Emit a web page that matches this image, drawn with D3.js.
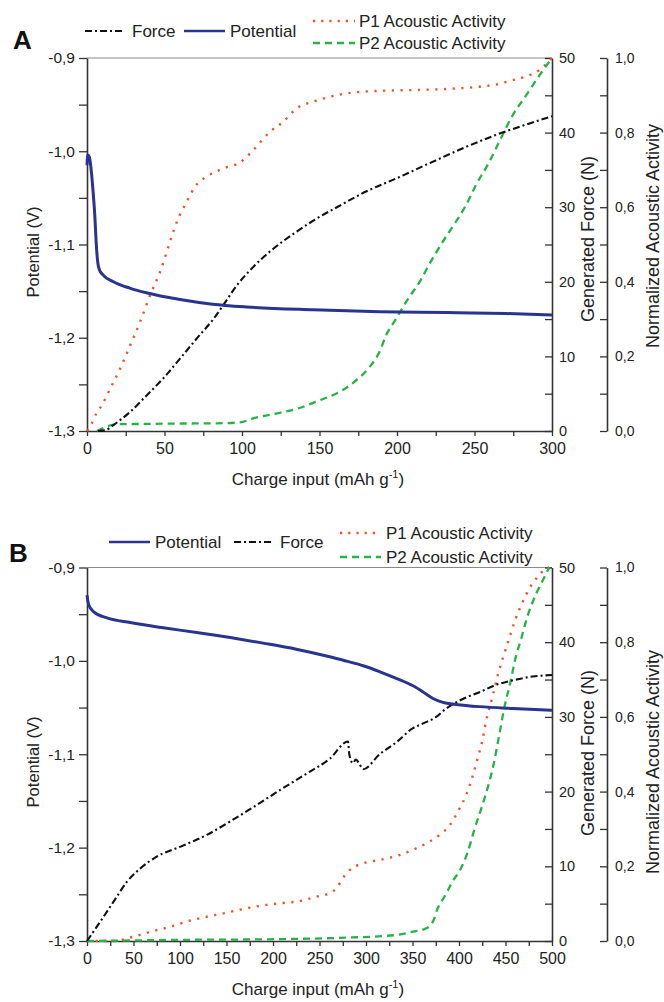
<!DOCTYPE html>
<html><head><meta charset="utf-8">
<script src="https://cdn.jsdelivr.net/npm/d3@7"></script>
<style>
body{margin:0;background:#fff;}
svg{display:block;font-family:"Liberation Sans",Arial,sans-serif;}
</style></head>
<body>
<svg id="chart" width="664" height="1002"></svg>
<script>
// ---------- DATA ----------
const potentialA = [[0,-1.015],[0.5,-1.004],[1.5,-1.006],[3,-1.025],[4,-1.045],[5,-1.068],[6,-1.1],[7,-1.12],[8,-1.127],[10,-1.132],[17,-1.140],[28,-1.147],[39,-1.152],[60,-1.159],[81,-1.164],[103,-1.167],[146,-1.170],[189,-1.172],[232,-1.173],[270,-1.174],[300,-1.1755]];
const forceA = [[7,0],[11.8,0.1],[17,0.8],[28,2.6],[38.6,4.8],[49.4,7.1],[60,9.7],[70.8,12.4],[81.5,15.0],[88,16.9],[96.6,19.5],[107.3,22.0],[120,24.4],[133,26.4],[146,28.2],[163,30.2],[180,32.1],[200,33.9],[221,35.9],[242.5,37.9],[264,39.7],[285,41.2],[300,42.2]];
const p1A = [[0,0],[3,0.02],[6,0.047],[9.7,0.07],[15,0.114],[21.5,0.168],[28,0.231],[34.3,0.293],[40.8,0.365],[47.2,0.427],[53.6,0.508],[58,0.561],[64.4,0.615],[69.7,0.655],[77.3,0.682],[88,0.704],[98.7,0.72],[107.3,0.753],[118,0.802],[126.6,0.829],[135.2,0.865],[146,0.883],[156.7,0.896],[167.4,0.905],[189,0.912],[210,0.914],[232,0.917],[253,0.923],[264,0.929],[275,0.941],[283,0.95],[292,0.968],[300,1.0]];
const p2A = [[6.4,0],[12.9,0.012],[19.3,0.018],[38.6,0.019],[60,0.02],[81.5,0.0205],[98.7,0.023],[107.3,0.034],[120,0.045],[135,0.059],[150.5,0.083],[163,0.105],[174,0.137],[182.4,0.172],[188.8,0.213],[193,0.257],[199.6,0.302],[206,0.347],[214.6,0.4],[223,0.463],[229.6,0.508],[238,0.561],[244.6,0.606],[251,0.66],[259.6,0.722],[266,0.776],[274.7,0.847],[283.3,0.9],[292,0.954],[300,1.0]];

const potentialB = [[0,-0.9296],[1.8,-0.940],[7.2,-0.9475],[21.5,-0.954],[46.5,-0.959],[82,-0.9646],[118,-0.9696],[154,-0.975],[189.5,-0.981],[225,-0.9875],[261,-0.9956],[279,-1.0003],[297,-1.0052],[315,-1.0117],[332.6,-1.0188],[350.5,-1.0267],[361,-1.033],[372,-1.0403],[382.7,-1.0445],[397,-1.0466],[422,-1.049],[458,-1.051],[500,-1.0528]];
const forceB = [[0,0],[14.3,2.6],[28.6,5.26],[43,7.94],[57.2,9.7],[75,11.3],[100,12.6],[128.8,14.2],[153.8,16.0],[182.4,18.2],[207.4,20.2],[236,22.4],[261,24.4],[280.7,26.7],[282,25.0],[286,23.8],[289,24.3],[292,23.9],[297,23.0],[314.7,25.0],[332.6,26.6],[350.5,28.5],[361,29.1],[375.5,30.0],[386,31.1],[404,32.4],[422,33.3],[440,34.3],[458,34.9],[479,35.4],[500,35.6]];
const p1B = [[0,0],[28.6,0],[50,0.0116],[71.5,0.027],[89.4,0.038],[107,0.052],[128.8,0.065],[146.6,0.074],[168,0.0856],[186,0.094],[207.4,0.101],[229,0.107],[247,0.119],[261,0.128],[268,0.141],[275,0.168],[282.5,0.19],[297,0.208],[314.7,0.217],[336,0.23],[354,0.248],[368.4,0.266],[379,0.284],[390,0.31],[400.6,0.355],[407.7,0.391],[415,0.444],[420,0.489],[425.6,0.542],[429,0.587],[436.4,0.658],[441.7,0.712],[447,0.756],[454,0.81],[461,0.8635],[468.5,0.908],[475.7,0.944],[486,0.979],[493.5,0.997],[497,1.0]];
const p2B = [[0,0],[100,0.003],[207,0.005],[279,0.009],[332.6,0.016],[350.5,0.025],[365,0.034],[370,0.045],[372,0.052],[377,0.087],[384.5,0.119],[393,0.159],[402,0.194],[409.5,0.239],[416.7,0.3],[424,0.355],[433,0.43],[437,0.47],[443,0.548],[449,0.628],[455,0.69],[461,0.76],[467,0.81],[472.5,0.86],[483,0.93],[490,0.965],[497,1.0]];

const potentialTicks = [-1.3,-1.2,-1.1,-1.0,-0.9];
const potentialMinor = [-1.25,-1.15,-1.05,-0.95];
const forceTicks = [0,10,20,30,40,50];
const forceMinor = [5,15,25,35,45];
const acousticTicks = [0,0.2,0.4,0.6,0.8,1.0];
const acousticMinor = [0.1,0.3,0.5,0.7,0.9];
const chargeTicksA = [0,50,100,150,200,250,300];
const chargeMinorA = [25,75,125,175,225,275];
const chargeTicksB = [0,50,100,150,200,250,300,350,400,450,500];
const chargeMinorB = [25,75,125,175,225,275,325,375,425,475];

// ---------- STYLE ----------
const C = {pot:"#28348f", force:"#111111", p1:"#f4502a", p2:"#25b346", axis:"#333333"};
const svg = d3.select("#chart");
svg.append("rect").attr("width",664).attr("height",1002).attr("fill","#fff");

const fmt1 = d => d3.format(".1f")(d).replace("−","-").replace(".",",");
const fmt0 = d => d3.format("d")(d);

function panel(cfg){
  const L=87, R=552, AX=607, T=cfg.top, B=cfg.bottom;
  const g = svg.append("g");
  const x = d3.scaleLinear().domain([0,cfg.xmax]).range([L,R]);
  const yP = d3.scaleLinear().domain([-1.3,-0.9]).range([B,T]);
  const yF = d3.scaleLinear().domain([0,50]).range([B,T]);
  const yA = d3.scaleLinear().domain([0,1]).range([B,T]);

  // top frame
  g.append("line").attr("x1",L).attr("x2",R).attr("y1",T).attr("y2",T).attr("stroke","#8a8a8a").attr("stroke-width",1.2);

  const styleAxis = (sel, fs) => {
    sel.selectAll("path.domain").attr("stroke",C.axis).attr("stroke-width",1.6);
    sel.selectAll(".tick line").attr("stroke",C.axis).attr("stroke-width",1.3);
    sel.selectAll(".tick text").attr("fill","#222").style("font-size",fs+"px").style("font-family","Liberation Sans, Arial, sans-serif");
  };

  // bottom axis
  const gx = g.append("g").attr("transform",`translate(0,${B})`)
    .call(d3.axisBottom(x).tickValues(cfg.xt).tickFormat(fmt0).tickSizeInner(5).tickSizeOuter(0).tickPadding(7));
  styleAxis(gx,16);
  const gxm = g.append("g").attr("transform",`translate(0,${B})`)
    .call(d3.axisBottom(x).tickValues(cfg.xm).tickFormat("").tickSizeInner(5).tickSizeOuter(0));
  styleAxis(gxm,16); gxm.select("path.domain").remove();

  // left axis
  const gy = g.append("g").attr("transform",`translate(${L},0)`)
    .call(d3.axisLeft(yP).tickValues(potentialTicks).tickFormat(fmt1).tickSizeInner(8).tickSizeOuter(0).tickPadding(4));
  styleAxis(gy,15.5);
  const gym = g.append("g").attr("transform",`translate(${L},0)`)
    .call(d3.axisLeft(yP).tickValues(potentialMinor).tickFormat("").tickSizeInner(8).tickSizeOuter(0));
  styleAxis(gym,15.5); gym.select("path.domain").remove();

  // force axis (ticks pointing left)
  const gf = g.append("g").attr("transform",`translate(${R},0)`)
    .call(d3.axisRight(yF).tickValues(forceTicks).tickFormat(fmt0).tickSizeInner(-7).tickSizeOuter(0).tickPadding(7));
  styleAxis(gf,14.5);
  const gfm = g.append("g").attr("transform",`translate(${R},0)`)
    .call(d3.axisRight(yF).tickValues(forceMinor).tickFormat("").tickSizeInner(-7).tickSizeOuter(0));
  styleAxis(gfm,14.5); gfm.select("path.domain").remove();

  // acoustic axis
  const ga = g.append("g").attr("transform",`translate(${AX},0)`)
    .call(d3.axisRight(yA).tickValues(acousticTicks).tickFormat(fmt1).tickSizeInner(-7).tickSizeOuter(0).tickPadding(8));
  styleAxis(ga,14);
  const gam = g.append("g").attr("transform",`translate(${AX},0)`)
    .call(d3.axisRight(yA).tickValues(acousticMinor).tickFormat("").tickSizeInner(-7).tickSizeOuter(0));
  styleAxis(gam,14); gam.select("path.domain").remove();

  // lines
  const mk = ys => d3.line().x(d=>x(d[0])).y(d=>ys(d[1])).curve(d3.curveMonotoneX);
  const plot = g.append("g");
  plot.append("path").attr("d",mk(yA)(cfg.p1)).attr("fill","none").attr("stroke",C.p1).attr("stroke-width",2.4).attr("stroke-dasharray","2.2,6.5");
  plot.append("path").attr("d",mk(yA)(cfg.p2)).attr("fill","none").attr("stroke",C.p2).attr("stroke-width",2.3).attr("stroke-dasharray","7,5");
  plot.append("path").attr("d",mk(yF)(cfg.force)).attr("fill","none").attr("stroke",C.force).attr("stroke-width",2.1).attr("stroke-dasharray","7,3,2,3");
  plot.append("path").attr("d",mk(yP)(cfg.pot)).attr("fill","none").attr("stroke",C.pot).attr("stroke-width",3);

  // axis titles
  const title = (txt,xx,yy,rot,fs) => {
    const t = g.append("text").attr("transform",`translate(${xx},${yy}) rotate(${rot})`)
      .attr("text-anchor","middle").attr("fill","#222").style("font-size",fs+"px");
    return t.text(txt);
  };
  const xt = g.append("text").attr("x",318).attr("y",B+54).attr("text-anchor","middle").attr("fill","#222").style("font-size","17px");
  xt.append("tspan").text("Charge input (mAh g");
  xt.append("tspan").attr("dy",-7).style("font-size","11px").text("-1");
  xt.append("tspan").attr("dy",7).text(")");
  title("Potential (V)",39,cfg.potTitleY,-90,16.5);
  title("Generated Force (N)",594,cfg.forceTitleY,-90,18);
  title("Normalized Acoustic Activity",659,cfg.acTitleY,-90,18);

  // panel letter
  g.append("text").attr("x",cfg.letterX).attr("y",cfg.letterY).attr("fill","#111").style("font-size","26px").style("font-weight","bold").text(cfg.letter);

  // legend
  const leg = g.append("g");
  const styles = {
    "Force":{c:C.force,da:"7,3,2,3",w:2.1},
    "Potential":{c:C.pot,da:null,w:2.6},
    "P1 Acoustic Activity":{c:C.p1,da:"2.2,6",w:2.4},
    "P2 Acoustic Activity":{c:C.p2,da:"7,5",w:2.3}
  };
  cfg.legend.forEach(it => {
    const s = styles[it.name];
    const ln = leg.append("line").attr("x1",it.x1).attr("x2",it.x2).attr("y1",it.y).attr("y2",it.y).attr("stroke",s.c).attr("stroke-width",s.w);
    if (s.da) ln.attr("stroke-dasharray",s.da);
    leg.append("text").attr("x",it.tx).attr("y",it.y+6).attr("fill","#222").style("font-size","17px").text(it.name);
  });
}

panel({top:58,bottom:431,xmax:300,xt:chargeTicksA,xm:chargeMinorA,
  pot:potentialA,force:forceA,p1:p1A,p2:p2A,
  potTitleY:252,forceTitleY:239,acTitleY:236,letter:"A",letterX:13,letterY:49,
  legend:[
    {name:"Force",x1:85,x2:123,y:31,tx:132},
    {name:"Potential",x1:184,x2:225,y:31,tx:230},
    {name:"P1 Acoustic Activity",x1:313,x2:355,y:21,tx:359},
    {name:"P2 Acoustic Activity",x1:313,x2:355,y:43,tx:359}
  ]});

panel({top:567.5,bottom:941,xmax:500,xt:chargeTicksB,xm:chargeMinorB,
  pot:potentialB,force:forceB,p1:p1B,p2:p2B,
  potTitleY:762,forceTitleY:753,acTitleY:762,letter:"B",letterX:9,letterY:562,
  legend:[
    {name:"Potential",x1:109,x2:150,y:542,tx:155},
    {name:"Force",x1:234,x2:271,y:542,tx:280},
    {name:"P1 Acoustic Activity",x1:340,x2:381,y:533,tx:386},
    {name:"P2 Acoustic Activity",x1:340,x2:381,y:557,tx:386}
  ]});
</script>
</body></html>
